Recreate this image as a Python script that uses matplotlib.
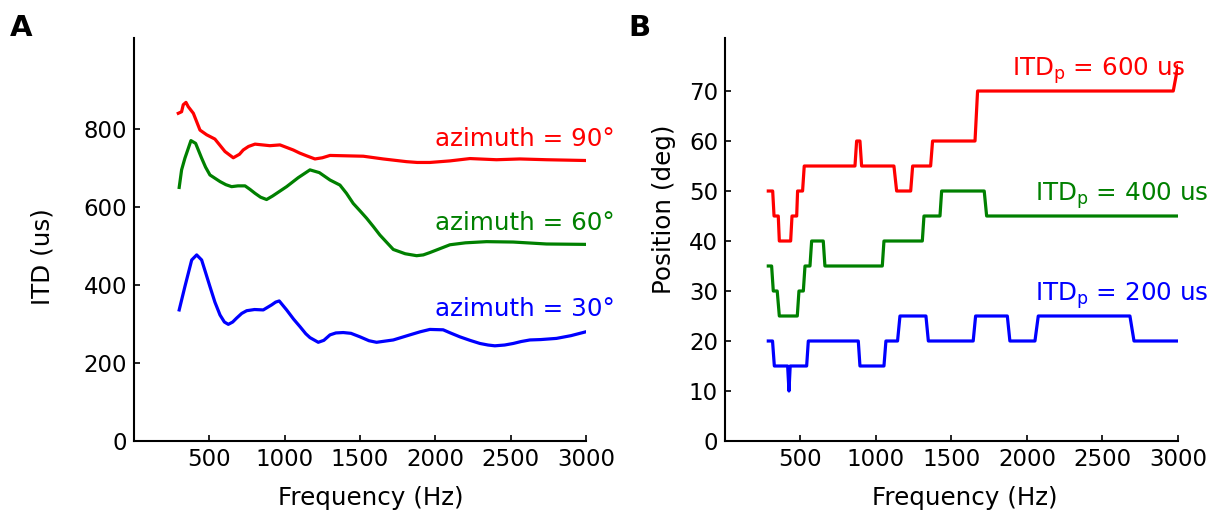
import numpy as np
import matplotlib
matplotlib.use("Agg")
import matplotlib.pyplot as plt

# panel A: ITD vs frequency for three azimuths
freq_90 = [294, 316, 327, 345, 360, 394, 438, 482, 537, 604, 659, 700, 725, 760, 803, 902, 969,
           1057, 1100, 1146, 1201, 1250, 1301, 1411, 1522, 1654, 1810, 1880, 1964, 2097, 2230,
           2406, 2561, 2738, 3000]
itd_90 = [840, 844, 862, 868, 857, 840, 797, 785, 774, 742, 726, 735, 746, 755, 761, 757, 759,
          746, 738, 731, 723, 726, 732, 731, 730, 723, 716, 714, 714, 718, 724,
          721, 723, 721, 719]

freq_60 = [300, 316, 338, 378, 409, 449, 475, 504, 571, 610, 648, 690, 737, 770, 803, 840, 880,
           920, 1013, 1090, 1168, 1230, 1301, 1367, 1410, 1455, 1500, 1544, 1590, 1632, 1680,
           1721, 1800, 1876, 1920, 1964, 2097, 2200, 2340, 2517, 2738, 3000]
itd_60 = [650, 695, 725, 770, 763, 725, 702, 682, 665, 657, 652, 654, 654, 645, 635, 625, 619,
          628, 652, 675, 695, 688, 669, 656, 635, 609, 590, 571, 549, 528, 508,
          491, 480, 475, 477, 483, 503, 508, 511, 510, 505, 504]

freq_30 = [300, 338, 383, 416, 449, 475, 504, 537, 571, 600, 626, 655, 681, 715, 748, 800, 858,
           914, 940, 964, 1013, 1060, 1102, 1140, 1168, 1223, 1260, 1301, 1340, 1389, 1440,
           1500, 1560, 1610, 1721, 1831, 1900, 1964, 2052, 2100, 2163, 2230, 2296, 2350, 2395,
           2460, 2517, 2570, 2628, 2700, 2804, 2900, 3000]
itd_30 = [336, 396, 464, 477, 464, 432, 396, 356, 323, 305, 299, 305, 315, 327, 334, 337, 336,
          349, 356, 359, 336, 312, 293, 275, 265, 253, 258, 272, 277, 278, 276,
          267, 257, 253, 259, 272, 280, 286, 285, 277, 267, 258, 250, 246, 244,
          246, 250, 255, 259, 260, 263, 270, 280]

# panel B: estimated position, stored as flat segments (start Hz, end Hz, value)
seg600_start = [287, 325, 360, 444, 481, 525, 872, 905, 1137, 1243, 1375, 1673, 3000]
seg600_end = [316, 353, 435, 475, 514, 861, 894, 1119, 1230, 1362, 1656, 2969, 3000]
seg600_val = [50, 45, 40, 45, 50, 55, 60, 55, 50, 55, 60, 70, 75]

seg400_start = [287, 320, 360, 490, 530, 574, 662, 1053, 1318, 1435, 1733]
seg400_end = [309, 346, 479, 519, 563, 651, 1042, 1307, 1424, 1717, 3000]
seg400_val = [35, 30, 25, 30, 35, 40, 35, 40, 45, 50, 45]

seg200_start = [287, 327, 424, 432, 552, 894, 1066, 1159, 1347, 1660, 1887, 2075, 2709]
seg200_end = [315, 415, 424, 541, 883, 1053, 1143, 1331, 1644, 1870, 2053, 2682, 3000]
seg200_val = [20, 15, 10, 15, 20, 15, 20, 25, 20, 25, 20, 25, 20]

xticks = [500, 1000, 1500, 2000, 2500, 3000]

FS = 16.5      # tick labels
LFS = 17.7     # axis labels and annotations
RED = "#ff0000"
GREEN = "#008000"
BLUE = "#0000ff"


def segments_to_line(starts, ends, vals):
    x = np.column_stack([starts, ends]).ravel()
    y = np.repeat(vals, 2)
    return x, y


def style_axes(ax):
    for side in ["top", "right"]:
        ax.spines[side].set_visible(False)
    for side in ["left", "bottom"]:
        ax.spines[side].set_linewidth(1.5)
    ax.tick_params(direction="in", length=4, width=1.2, labelsize=FS,
                   top=False, right=False, pad=5)
    ax.set_xlim(0, 3000)
    ax.set_xticks(xticks)
    ax.set_xlabel("Frequency (Hz)", fontsize=LFS, labelpad=11)


fig = plt.figure(figsize=(12.17, 5.11), dpi=100)

axA = fig.add_axes([0.1101, 0.137, 0.3714, 0.7886])
axA.plot(freq_90, itd_90, color=RED, lw=2.3)
axA.plot(freq_60, itd_60, color=GREEN, lw=2.3)
axA.plot(freq_30, itd_30, color=BLUE, lw=2.3)
axA.text(2000, 755, "azimuth = 90°", color=RED, fontsize=LFS)
axA.text(2000, 540, "azimuth = 60°", color=GREEN, fontsize=LFS)
axA.text(2000, 320, "azimuth = 30°", color=BLUE, fontsize=LFS)
style_axes(axA)
axA.set_ylim(0, 1033)
axA.set_yticks([0, 200, 400, 600, 800])
axA.set_ylabel("ITD (us)", fontsize=LFS, labelpad=20.5)
axA.xaxis.label.set_x(0.524)
axA.yaxis.label.set_y(0.457)

axB = fig.add_axes([0.5957, 0.137, 0.3722, 0.7886])
for starts, ends, vals, c in [(seg600_start, seg600_end, seg600_val, RED),
                              (seg400_start, seg400_end, seg400_val, GREEN),
                              (seg200_start, seg200_end, seg200_val, BLUE)]:
    x, y = segments_to_line(starts, ends, vals)
    axB.plot(x, y, color=c, lw=2.3)
axB.text(1900, 73, r"ITD$_\mathregular{p}$ = 600 us", color=RED, fontsize=LFS)
axB.text(2053, 48, r"ITD$_\mathregular{p}$ = 400 us", color=GREEN, fontsize=LFS)
axB.text(2053, 28, r"ITD$_\mathregular{p}$ = 200 us", color=BLUE, fontsize=LFS)
style_axes(axB)
axB.set_ylim(0, 80.6)
axB.set_yticks(np.arange(0, 71, 10))
axB.set_ylabel("Position (deg)", fontsize=LFS, labelpad=9)
axB.xaxis.label.set_x(0.53)
axB.yaxis.label.set_y(0.576)

fig.text(0.008, 0.972, "A", fontsize=21, fontweight="bold", va="top")
fig.text(0.516, 0.972, "B", fontsize=21, fontweight="bold", va="top")

fig.savefig("out.png", dpi=100)
